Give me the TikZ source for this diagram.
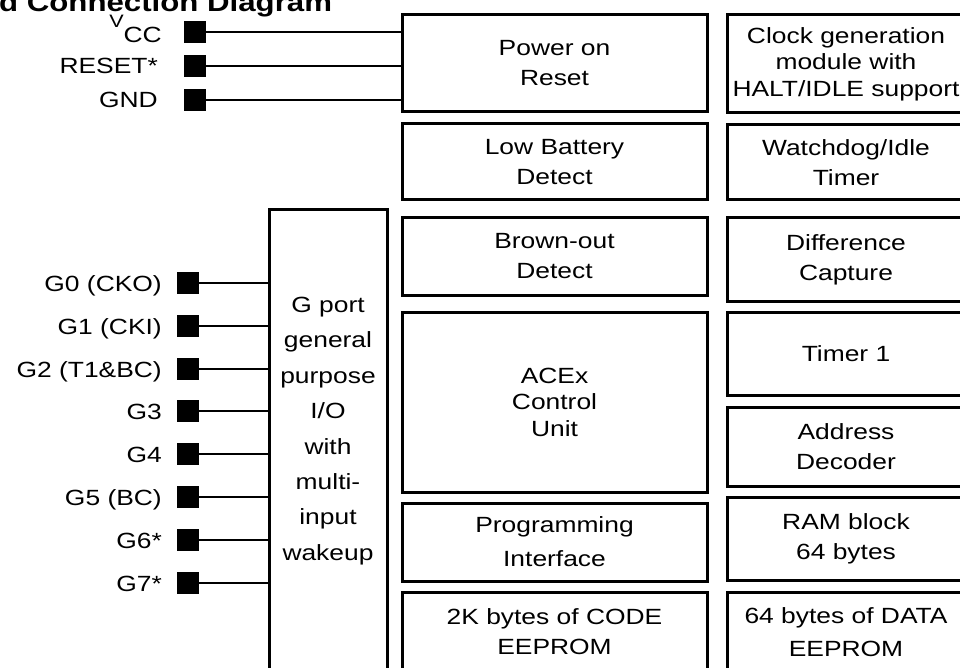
\documentclass[tikz,border=0pt]{standalone}
\usepackage{fontspec}
\setmainfont[FakeStretch=1.2]{Liberation Sans}
\usetikzlibrary{positioning}

\begin{document}
\begin{tikzpicture}[x=1pt, y=-1pt,
  blk/.style={
    rectangle, draw=black, line width=3pt,
    align=center, inner sep=0pt, font=\fontsize{22}{30}\selectfont
  },
  midblk/.style={blk, minimum width=305pt},
  rgtblk/.style={blk, minimum width=238pt},
  pin/.style={rectangle, fill=black, minimum size=22pt, inner sep=0pt},
  lbl/.style={anchor=base east, inner sep=0pt, font=\fontsize{22}{26}\selectfont},
  wire/.style={line width=2.5pt},
]
\useasboundingbox (0,0) rectangle (960,668);

%% Titel (oben abgeschnitten)
\node[anchor=base west, inner sep=0pt, font=\bfseries\fontsize{26}{26}\selectfont]
  (titel) at (-1,12) {d Connection Diagram};

%% Mittlere Spalte
\node[midblk, minimum height=97pt]  (por)    at (554.5, 63.5)  {Power on\\Reset};
\node[midblk, minimum height=76pt]  (lowbat) at (554.5,162)    {Low Battery\\Detect};
\node[midblk, minimum height=77pt]  (brown)  at (554.5,256.5)  {Brown-out\\Detect};
\node[midblk, minimum height=180pt, font=\fontsize{22}{26.5}\selectfont]
                                    (acex)   at (554.5,402)    {ACEx\\Control\\Unit};
\node[midblk, minimum height=78pt, font=\fontsize{22}{34}\selectfont]
                                    (prog)   at (554.5,542)    {Programming\\Interface};
\node[midblk, minimum height=80pt]  (code)   at (554.5,632)    {2K bytes of CODE\\EEPROM};

%% Rechte Spalte
\node[rgtblk, minimum height=98pt, font=\fontsize{22}{26.5}\selectfont]
                                    (clock)  at (846, 64)      {Clock generation\\module with\\HALT/IDLE support};
\node[rgtblk, minimum height=75pt]  (wdog)   at (846,162.5)    {Watchdog/Idle\\Timer};
\node[rgtblk, minimum height=83pt]  (diff)   at (846,259.5)    {Difference\\Capture};
\node[rgtblk, minimum height=83pt]  (timer)  at (846,353.5)    {Timer 1};
\node[rgtblk, minimum height=79pt]  (addr)   at (846,446.5)    {Address\\Decoder};
\node[rgtblk, minimum height=83pt]  (ram)    at (846,538.5)    {RAM block\\64 bytes};
\node[rgtblk, minimum height=80pt, font=\fontsize{22}{33}\selectfont]
                                    (data)   at (846,632)      {64 bytes of DATA\\EEPROM};

%% G-Port
\node[blk, minimum width=118pt, minimum height=490pt] (gport) at (328,455) {};
\node[align=center, inner sep=0pt, font=\fontsize{22}{35.4}\selectfont]
  (gtext) at (328,431) {G port\\general\\purpose\\I/O\\with\\multi-\\input\\wakeup};

%% Versorgungspins
\node[pin] (pvcc)   at (194.5, 32) {};
\node[pin] (preset) at (194.5, 66) {};
\node[pin] (pgnd)   at (194.5,100) {};
\node[lbl] (lvcc)   at (162, 43)   {\raisebox{15pt}{\fontsize{18}{18}\selectfont V}CC};
\node[lbl] (lreset) at (158, 74)   {RESET*};
\node[lbl] (lgnd)   at (158,108)   {GND};

%% G-Pins
\node[pin] (pg0) at (188,283) {};
\node[pin] (pg1) at (188,326) {};
\node[pin] (pg2) at (188,369) {};
\node[pin] (pg3) at (188,411) {};
\node[pin] (pg4) at (188,454) {};
\node[pin] (pg5) at (188,497) {};
\node[pin] (pg6) at (188,540) {};
\node[pin] (pg7) at (188,583) {};
\node[lbl] (lg0) at (162,291) {G0 (CKO)};
\node[lbl] (lg1) at (162,334) {G1 (CKI)};
\node[lbl] (lg2) at (162,377) {G2 (T1\&BC)};
\node[lbl] (lg3) at (162,419) {G3};
\node[lbl] (lg4) at (162,462) {G4};
\node[lbl] (lg5) at (162,505) {G5 (BC)};
\node[lbl] (lg6) at (162,548) {G6*};
\node[lbl] (lg7) at (162,591) {G7*};

%% Leitungen
\draw[wire] (pvcc.east)   -- (pvcc -| por.west);
\draw[wire] (preset.east) -- (preset -| por.west);
\draw[wire] (pgnd.east)   -- (pgnd -| por.west);
\draw[wire] (pg0.east) -- (pg0 -| gport.west);
\draw[wire] (pg1.east) -- (pg1 -| gport.west);
\draw[wire] (pg2.east) -- (pg2 -| gport.west);
\draw[wire] (pg3.east) -- (pg3 -| gport.west);
\draw[wire] (pg4.east) -- (pg4 -| gport.west);
\draw[wire] (pg5.east) -- (pg5 -| gport.west);
\draw[wire] (pg6.east) -- (pg6 -| gport.west);
\draw[wire] (pg7.east) -- (pg7 -| gport.west);

\end{tikzpicture}
\end{document}
